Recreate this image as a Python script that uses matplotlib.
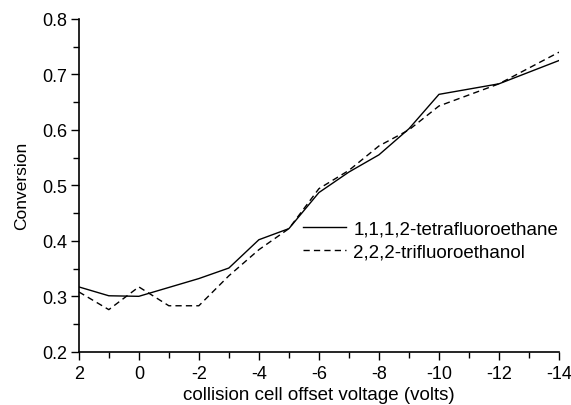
import matplotlib
matplotlib.use("Agg")
import matplotlib.pyplot as plt
from matplotlib.ticker import MultipleLocator

plt.rcParams["font.family"] = ["Liberation Sans", "DejaVu Sans"]
plt.rcParams["axes.unicode_minus"] = False

# collision cell offset voltage (volts)
voltage = [2, 1, 0, -1, -2, -3, -4, -5, -6, -7, -8, -9, -10, -12, -14]

# conversion values
tetrafluoroethane = [0.317, 0.301, 0.300, 0.316, 0.332, 0.351, 0.402, 0.422,
                     0.487, 0.524, 0.555, 0.602, 0.664, 0.683, 0.725]
trifluoroethanol = [0.308, 0.276, 0.317, 0.283, 0.283, 0.337, 0.384, 0.422,
                    0.494, 0.527, 0.571, 0.600, 0.643, 0.683, 0.740]

fig = plt.figure(figsize=(5.71, 4.06), dpi=100)
ax = fig.add_axes([0.138, 0.131, 0.841, 0.820])

ax.plot(voltage, tetrafluoroethane, color="black", lw=1.0, ls="-",
        label="1,1,1,2-tetrafluoroethane")
ax.plot(voltage, trifluoroethanol, color="black", lw=1.0, ls=(0, (4.5, 3)),
        label="2,2,2-trifluoroethanol")

ax.set_xlim(2, -14)
ax.set_ylim(0.2, 0.8)
ax.xaxis.set_major_locator(MultipleLocator(2))
ax.xaxis.set_minor_locator(MultipleLocator(1))
ax.yaxis.set_major_locator(MultipleLocator(0.1))
ax.yaxis.set_minor_locator(MultipleLocator(0.05))
ax.yaxis.set_major_formatter(plt.FuncFormatter(lambda v, p: f"{v:.1f}"))

for side in ["top", "right"]:
    ax.spines[side].set_visible(False)
ax.spines["left"].set_linewidth(1.2)
ax.spines["bottom"].set_linewidth(1.2)

ax.tick_params(which="major", direction="out", length=5.5, width=1.0,
               labelsize=13, pad=3)
ax.tick_params(axis="x", which="major", pad=4)
ax.tick_params(which="minor", direction="out", length=4, width=1.0)

ax.set_xlabel("collision cell offset voltage (volts)", fontsize=13.5, labelpad=3)
ax.set_ylabel("Conversion", fontsize=12.5, labelpad=9)

ax.legend(loc="center left", bbox_to_anchor=(0.451, 0.335), frameon=False,
          fontsize=13.5, handlelength=2.3, handletextpad=0.4, labelspacing=0.3,
          borderaxespad=0)

fig.savefig("out.png", dpi=100)
